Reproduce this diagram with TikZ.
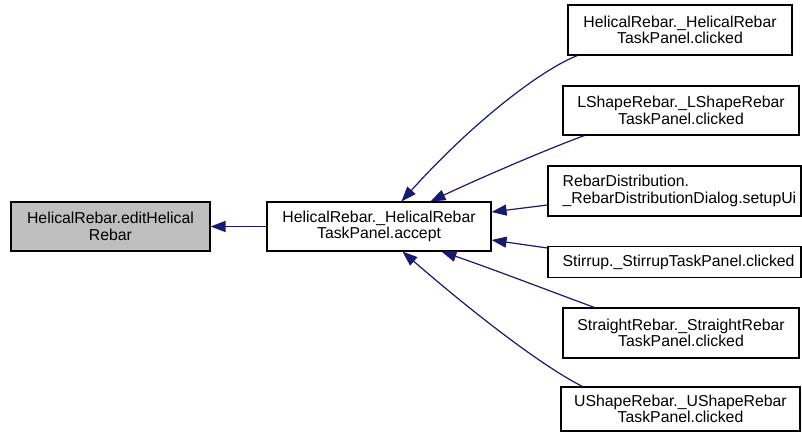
\documentclass[tikz,border=0pt]{standalone}
\usepackage{fontspec}
\setmainfont{Liberation Sans}
\usetikzlibrary{arrows.meta}
\definecolor{edgeblue}{HTML}{191970}
\definecolor{hilite}{HTML}{BFBFBF}

\begin{document}
\begin{tikzpicture}[x=1pt,y=-1pt,
  lbl/.style={font=\fontsize{15.8}{16.6}\selectfont},
  box/.style={lbl, draw=black, line width=1.1pt, fill=white, inner sep=0pt, align=center},
  boxtext/.style={lbl, anchor=west, align=left, inner sep=0pt},
  call/.style={draw=edgeblue, line width=1.2pt, -{Triangle[length=15pt,width=11pt]}},
]
\useasboundingbox (0,0) rectangle (802,432);

% caller chain
\node[box, fill=hilite, minimum width=199pt, minimum height=49pt] (edit) at (110.5,226.5)
  {HelicalRebar.editHelical\\Rebar};
\node[box, minimum width=224pt, minimum height=49pt] (accept) at (379,226.5)
  {HelicalRebar.\_HelicalRebar\\TaskPanel.accept};

% callers of accept
\node[box, minimum width=224pt, minimum height=50pt] (helical) at (680,30)
  {HelicalRebar.\_HelicalRebar\\TaskPanel.clicked};
\node[box, minimum width=236pt, minimum height=49pt] (lshape) at (681,110.5)
  {LShapeRebar.\_LShapeRebar\\TaskPanel.clicked};
\node[box, minimum width=253pt, minimum height=50pt] (distrib) at (674.5,191) {};
\node[boxtext] (distribtext) at ([xshift=15pt]distrib.west)
  {RebarDistribution.\\\_RebarDistributionDialog.setupUi};
\node[box, minimum width=253pt, minimum height=31pt] (stirrup) at (674.5,262) {};
\node[boxtext] (stirruptext) at ([xshift=15pt]stirrup.west)
  {Stirrup.\_StirrupTaskPanel.clicked};
\node[box, minimum width=236pt, minimum height=50pt] (straight) at (681,333)
  {StraightRebar.\_StraightRebar\\TaskPanel.clicked};
\node[box, minimum width=239pt, minimum height=44pt] (ushape) at (680.5,409)
  {UShapeRebar.\_UShapeRebar\\TaskPanel.clicked};

% call edges
\draw[call] (accept.west) -- (edit.east);
\draw[call] ([xshift=10pt]helical.south west)
  .. controls (540,70) and (470,125) .. ([xshift=135pt]accept.north west);
\draw[call] ([xshift=22pt]lshape.south west)
  .. controls (550,148) and (480,178) .. ([xshift=164pt]accept.north west);
\draw[call] ([yshift=-14pt]distrib.west) -- ([yshift=14.5pt]accept.east);
\draw[call] ([yshift=14pt]stirrup.west) -- ([yshift=-13.5pt]accept.east);
\draw[call] ([xshift=32pt]straight.north west)
  .. controls (555,293) and (490,268) .. ([xshift=175pt]accept.south west);
\draw[call] ([xshift=22pt]ushape.north west)
  .. controls (540,365) and (470,310) .. ([xshift=136pt]accept.south west);
\end{tikzpicture}
\end{document}
